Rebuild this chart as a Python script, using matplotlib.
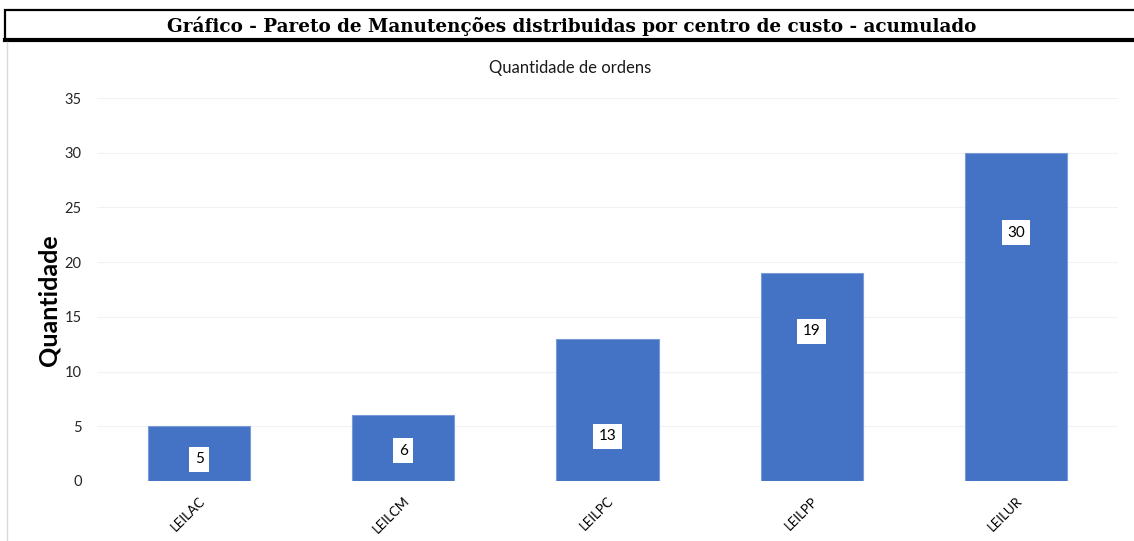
import matplotlib.pyplot as plt
from matplotlib.patches import Rectangle
from matplotlib.lines import Line2D

# dados do grafico
centros = ["LEILAC", "LEILCM", "LEILPC", "LEILPP", "LEILUR"]
quantidades = [5, 6, 13, 19, 30]
# altura onde cada rotulo foi colocado (posicionado a mao no original)
pos_rotulos = [2.0, 2.75, 4.1, 13.7, 22.7]
yticks = [0, 5, 10, 15, 20, 25, 30, 35]

W, H = 1134, 541
fig = plt.figure(figsize=(W / 100, H / 100), dpi=100)

# caixa do titulo
fig.patches.append(Rectangle((5 / W, 1 - 40 / H), 1.2, 30 / H, transform=fig.transFigure,
                             facecolor="white", edgecolor="black", linewidth=1.6, zorder=1))
fig.lines.append(Line2D([5 / W, 1], [1 - 40 / H, 1 - 40 / H], transform=fig.transFigure,
                        color="black", linewidth=3))
fig.lines.append(Line2D([7 / W, 7 / W], [0, 1 - 42 / H], transform=fig.transFigure,
                        color="#d9d9d9", linewidth=1))
fig.text(572 / W, 1 - 26 / H, "Gráfico - Pareto de Manutenções distribuidas por centro de custo - acumulado",
         ha="center", va="center", fontsize=13.2, fontweight="bold", family="DejaVu Serif")

fig.text(570 / W, 1 - 68 / H, "Quantidade de ordens", ha="center", va="center",
         fontsize=12, family="Lato", color="#1a1a1a")

ax = fig.add_axes([97 / W, 1 - 481 / H, (1118 - 97) / W, (481 - 98) / H])
x = range(len(centros))
ax.bar(x, quantidades, width=0.5, color="#4472C4", edgecolor="#7a9ad8", linewidth=0.8, zorder=2)

for xi, q, py in zip(x, quantidades, pos_rotulos):
    ax.text(xi, py, str(q), ha="center", va="center", fontsize=11, family="Lato",
            bbox=dict(facecolor="white", edgecolor="none", pad=4), zorder=3)

ax.set_xlim(-0.5, len(centros) - 0.5)
ax.set_ylim(0, 35)
ax.set_yticks(yticks)
ax.set_yticklabels([str(t) for t in yticks], fontsize=10.5, family="Lato", color="#262626")
ax.set_xticks(list(x))
ax.set_xticklabels(centros, rotation=45, ha="right", va="top", rotation_mode="anchor",
                   fontsize=9.5, family="Lato")
ax.tick_params(axis="both", length=0)
ax.tick_params(axis="y", pad=11)
ax.tick_params(axis="x", pad=10)
ax.grid(axis="y", color="#f2f2f2", linewidth=0.8, zorder=0)
ax.set_axisbelow(True)
for s in ax.spines.values():
    s.set_visible(False)

ax.set_ylabel("Quantidade", fontsize=18, fontweight="bold", family="Lato")
ax.yaxis.set_label_coords(-0.036, 0.473)

fig.savefig("out.png", dpi=100)
